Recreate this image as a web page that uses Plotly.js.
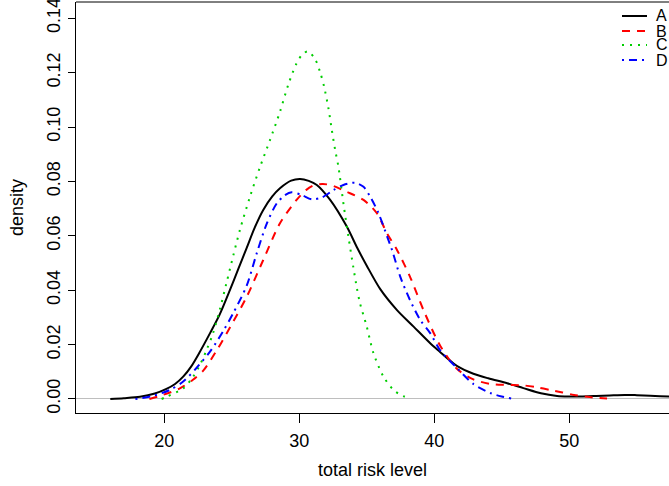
<!DOCTYPE html>
<html>
<head>
<meta charset="utf-8">
<script src="https://cdn.plot.ly/plotly-3.0.1.min.js"></script>
<style>html,body{margin:0;padding:0;background:#fff;}#chart{width:669px;height:486px;}</style>
</head>
<body>
<div id="chart"></div>
<script>
// Series names
var seriesNames = ["A", "B", "C", "D"];

// A (black, solid)
var xA = [16.0, 17.0, 18.2, 19.3, 20.16, 20.8, 21.4, 22.0, 22.6, 23.4, 24.1, 24.86, 25.5, 26.1, 26.7, 27.33, 28.0, 28.57, 29.4, 30.06, 30.7, 31.3, 32.29, 33.53, 34.3, 35.0, 36.0, 37.24, 38.47, 39.7, 40.45, 41.0, 41.7, 42.9, 44.0, 45.4, 46.6, 47.9, 49.1, 50.0, 50.85, 52.0, 53.0, 54.1, 55.0, 56.0, 57.45, 58.5];
var dA = [0.0, 0.0003, 0.0008, 0.002, 0.0037, 0.0055, 0.0082, 0.012, 0.017, 0.0243, 0.031, 0.0400, 0.048, 0.0555, 0.0630, 0.0695, 0.0745, 0.0775, 0.0803, 0.0809, 0.0802, 0.0787, 0.0732, 0.0633, 0.0555, 0.049, 0.0404, 0.0327, 0.0266, 0.0205, 0.0172, 0.0148, 0.0121, 0.0093, 0.0076, 0.0058, 0.0040, 0.0021, 0.0011, 0.0009, 0.0009, 0.0011, 0.0013, 0.0015, 0.0014, 0.0012, 0.0009, 0.0007];

// B (red, dashed)
var xB = [18.9, 19.9, 21.15, 22.1, 22.9, 23.9, 24.9, 26.1, 27.33, 28.57, 29.8, 30.5, 31.05, 31.7, 32.29, 33.5, 34.76, 35.75, 36.5, 37.24, 38.2, 39.2, 40.45, 41.7, 42.9, 44.2, 45.4, 46.6, 47.6, 48.6, 49.5, 50.35, 51.5, 52.8];
var dB = [0.0, 0.0015, 0.0039, 0.007, 0.0105, 0.018, 0.0266, 0.0375, 0.0511, 0.0646, 0.0732, 0.0768, 0.0785, 0.0790, 0.0787, 0.0762, 0.0732, 0.0683, 0.0609, 0.0548, 0.045, 0.0327, 0.0195, 0.011, 0.0072, 0.0055, 0.0052, 0.0050, 0.0043, 0.0033, 0.0024, 0.0015, 0.0007, 0.0002];

// C (green, dotted)
var xC = [19.8, 20.16, 21.4, 22.14, 22.64, 23.13, 23.6, 24.12, 24.6, 25.1, 25.6, 26.35, 27.1, 27.83, 28.57, 29.2, 29.8, 30.2, 30.63, 31.17, 31.55, 31.84, 32.16, 32.41, 32.66, 32.9, 33.27, 33.64, 34.0, 34.27, 34.5, 35.0, 35.5, 36.24, 36.98, 37.5, 37.98];
var dC = [0.0, 0.0008, 0.0039, 0.0082, 0.0125, 0.018, 0.024, 0.033, 0.0425, 0.0525, 0.0621, 0.0744, 0.0854, 0.0952, 0.1056, 0.1158, 0.1234, 0.1265, 0.1278, 0.125, 0.1201, 0.1148, 0.1069, 0.0989, 0.0915, 0.0854, 0.0719, 0.0597, 0.0486, 0.0407, 0.0352, 0.0266, 0.0168, 0.0082, 0.0033, 0.0015, 0.0005];

// D (blue, dot-dash)
var xD = [17.86, 19.2, 20.4, 21.4, 22.4, 23.4, 24.37, 25.1, 26.1, 26.85, 27.6, 28.33, 28.9, 29.44, 30.18, 30.93, 31.67, 32.53, 33.27, 34.14, 34.76, 35.25, 35.87, 36.6, 36.87, 37.48, 38.2, 38.97, 39.7, 40.45, 41.7, 42.9, 44.2, 45.0, 45.7];
var dD = [0.0, 0.0012, 0.0033, 0.0064, 0.0115, 0.0175, 0.025, 0.0315, 0.0416, 0.0536, 0.0646, 0.0719, 0.0748, 0.0760, 0.0750, 0.0734, 0.0741, 0.0768, 0.0787, 0.0795, 0.0780, 0.0744, 0.0683, 0.0585, 0.0548, 0.045, 0.0364, 0.029, 0.0242, 0.0178, 0.0113, 0.0055, 0.0021, 0.0009, 0.0002];

// Tick values
var xTicks = [20, 30, 40, 50];
var yTicks = [0.00, 0.02, 0.04, 0.06, 0.08, 0.10, 0.12, 0.14];
var yTickText = ["0.00", "0.02", "0.04", "0.06", "0.08", "0.10", "0.12", "0.14"];

var colors = ["#000000", "#ff0000", "#00cd00", "#0000ff"];
var dashes = ["solid", "8px,7px", "2px,6px", "2px,5px,8px,5px"];
var xs = [xA, xB, xC, xD];
var ds = [dA, dB, dC, dD];

var traces = [];
for (var i = 0; i < 4; i++) {
  traces.push({
    type: "scatter", mode: "lines", name: seriesNames[i],
    x: xs[i], y: ds[i],
    line: {color: colors[i], width: 2, dash: dashes[i], shape: "spline", smoothing: 0.8},
    hoverinfo: "skip", showlegend: false
  });
}

var FONT = "Liberation Sans, Arial, Helvetica, sans-serif";
var W = 669, H = 486, mL = 76, mR = 0, mT = 2, mB = 73;
var pw = W - mL - mR, ph = H - mT - mB;
function px2x(px) { return (px - mL) / pw; }
function py2y(py) { return (H - mB - py) / ph; }

var shapes = [
  // top border of box
  {type: "line", xref: "paper", yref: "paper", x0: 0, x1: 1, y0: 1, y1: 1, line: {color: "#000", width: 1}}
];
var annotations = [];
var legY = [16, 31, 45, 60];
for (var j = 0; j < 4; j++) {
  shapes.push({type: "line", xref: "paper", yref: "paper",
    x0: px2x(622), x1: px2x(647), y0: py2y(legY[j]), y1: py2y(legY[j]),
    line: {color: colors[j], width: 2, dash: dashes[j]}});
  annotations.push({xref: "paper", yref: "paper", x: px2x(654), y: py2y(legY[j]),
    xanchor: "left", yanchor: "middle", showarrow: false, text: seriesNames[j],
    font: {family: FONT, size: 16, color: "#000"}});
}

var layout = {
  width: W, height: H,
  margin: {l: mL, r: mR, t: mT, b: mB, pad: 0},
  paper_bgcolor: "#fff", plot_bgcolor: "#fff",
  font: {family: FONT, size: 18, color: "#000"},
  showlegend: false,
  xaxis: {
    range: [13.46, 57.39], tickvals: xTicks, ticktext: xTicks.map(String),
    ticks: "outside", ticklen: 9, tickcolor: "#000", tickwidth: 1,
    showline: true, linecolor: "#000", linewidth: 1,
    showgrid: false, zeroline: false,
    ticklabelstandoff: 2, ticklabeloverflow: "allow",
    tickfont: {family: FONT, size: 18},
    title: {text: "total risk level", font: {family: FONT, size: 18}, standoff: 13}
  },
  yaxis: {
    range: [-0.00515, 0.14596], tickvals: yTicks, ticktext: yTickText, tickangle: -90,
    ticks: "outside", ticklen: 7, tickcolor: "#000", tickwidth: 1,
    showline: true, linecolor: "#000", linewidth: 1,
    showgrid: false, zeroline: true, zerolinecolor: "#bebebe", zerolinewidth: 1,
    ticklabelstandoff: 1, ticklabeloverflow: "allow",
    tickfont: {family: FONT, size: 18},
    title: {text: "density", font: {family: FONT, size: 18}, standoff: 15}
  },
  shapes: shapes,
  annotations: annotations
};

Plotly.newPlot("chart", traces, layout, {displayModeBar: false, staticPlot: true});
</script>
</body>
</html>
